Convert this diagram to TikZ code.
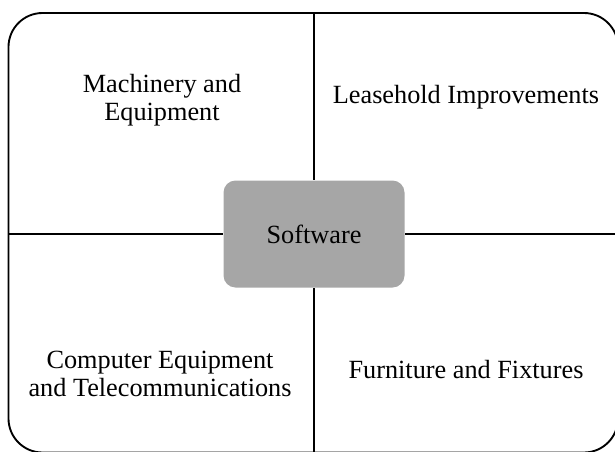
\documentclass[tikz,border=0pt]{standalone}
\usepackage{fontspec}
\setmainfont{Liberation Serif}
\usepackage{tikz}
\usetikzlibrary{calc}
\tikzset{
  part/.style={align=center, inner sep=0, font=\fontsize{19.7}{21}\selectfont},
  hub/.style={fill=gray!70, rounded corners=9pt, minimum width=135.75pt, minimum height=80.25pt, inner sep=0, font=\fontsize{19.7}{21}\selectfont},
  spoke/.style={black, line width=2pt},
  frame/.style={black, line width=1.4pt, rounded corners=25.5pt}
}

\begin{document}
\begin{tikzpicture}[x=0.75pt, y=-0.75pt]
\useasboundingbox (0,0) rectangle (615,451);
\draw[frame] (8.5,13) rectangle (618,452.5);

\coordinate (top) at (314,13);
\coordinate (bot) at (314,452.5);
\coordinate (lft) at (8.5,234);
\coordinate (rgt) at (618,234);

\node[hub] (soft) at (314,234) {Software};

\draw[spoke] (top) -- (soft.north);
\draw[spoke] (bot) -- (soft.south);
\draw[spoke] (lft) -- (soft.west);
\draw[spoke] (rgt) -- (soft.east);

\node[part] (mach) at (162,100) {Machinery and\\Equipment};
\node[part, anchor=base] (lease) at (466,103) {Leasehold Improvements};
\node[part] (comp) at (160,374) {Computer Equipment\\and Telecommunications};
\node[part, anchor=base] (furn) at (466,378) {Furniture and Fixtures};
\end{tikzpicture}
\end{document}
